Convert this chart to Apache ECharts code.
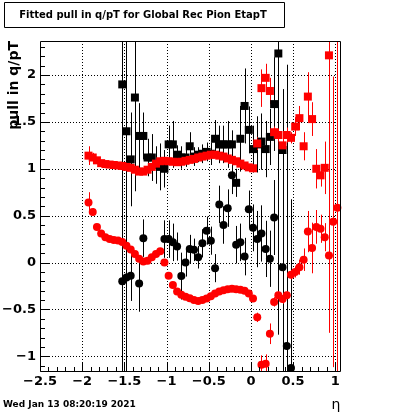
<!DOCTYPE html>
<html><head><meta charset="utf-8">
<script src="https://cdn.jsdelivr.net/npm/echarts@6/dist/echarts.min.js"></script>
<style>html,body{margin:0;padding:0;background:#fff}#c{width:400px;height:414px}</style>
</head><body><div id="c"></div>
<script>
// ---- data ----
const eta = [-1.925,-1.875,-1.825,-1.775,-1.725,-1.675,-1.625,-1.575,-1.525,-1.475,
 -1.425,-1.375,-1.325,-1.275,-1.225,-1.175,-1.125,-1.075,-1.025,-0.975,
 -0.925,-0.875,-0.825,-0.775,-0.725,-0.675,-0.625,-0.575,-0.525,-0.475,
 -0.425,-0.375,-0.325,-0.275,-0.225,-0.175,-0.125,-0.075,-0.025,0.025,
 0.075,0.125,0.175,0.225,0.275,0.325,0.375,0.425,0.475,0.525,
 0.575,0.625,0.675,0.725,0.775,0.825,0.875,0.925,0.975,1.025];

const redSigma = [1.14,1.12,1.09,1.06,1.05,1.045,1.04,1.035,1.03,1.02,
 1.01,0.99,0.97,0.97,0.99,1.02,1.055,1.08,1.085,1.08,
 1.075,1.07,1.075,1.085,1.095,1.105,1.12,1.13,1.14,1.15,
 1.15,1.14,1.13,1.11,1.095,1.08,1.055,1.035,1.015,1.005,
 1.27,1.86,1.97,1.83,1.39,1.36,1.25,1.36,1.33,1.45,
 1.54,1.24,1.77,1.53,1.00,0.93,1.01,2.21,null,null];
const redSigmaErr = [0.1,0.05,0.03,0.03,0.02,0.02,0.02,0.02,0.02,0.02,
 0.02,0.02,0.02,0.02,0.02,0.02,0.02,0.02,0.02,0.02,
 0.02,0.02,0.02,0.02,0.02,0.02,0.02,0.02,0.02,0.02,
 0.02,0.02,0.02,0.02,0.02,0.02,0.02,0.03,0.03,0.04,
 0.07,0.2,0.15,0.14,0.06,0.07,0.09,0.08,0.06,0.1,
 0.13,0.15,0.26,0.18,0.21,0.12,0.28,2.96,null,null];

const redMean = [0.64,0.54,0.38,0.31,0.27,0.25,0.24,0.235,0.22,0.18,
 0.14,0.09,0.04,0.01,0.02,0.055,0.09,0.12,0.0,-0.14,
 -0.24,-0.31,-0.345,-0.365,-0.38,-0.40,-0.41,-0.40,-0.385,-0.36,
 -0.33,-0.31,-0.295,-0.285,-0.28,-0.285,-0.29,-0.30,-0.33,-0.385,
 -0.585,-1.09,-1.08,-0.76,-0.42,-0.35,-0.39,-0.35,-0.13,-0.10,
 -0.05,0.03,0.33,0.155,0.38,0.36,0.27,0.074,0.434,0.585];
const redMeanErr = [0.11,0.04,0.03,0.02,0.02,0.02,0.02,0.02,0.02,0.02,
 0.02,0.02,0.02,0.02,0.02,0.02,0.02,0.02,0.02,0.02,
 0.02,0.02,0.02,0.02,0.02,0.02,0.02,0.02,0.02,0.02,
 0.02,0.02,0.02,0.02,0.02,0.02,0.02,0.02,0.03,0.03,
 0.05,0.1,0.1,0.11,0.05,0.04,0.05,0.04,0.05,0.06,
 0.08,0.12,0.22,0.27,0.18,0.15,0.15,0.4,1.55,2.0];

const blkSigma = [null,null,null,null,null,null,null,null,1.90,1.40,
 1.10,1.76,1.35,1.35,1.12,1.12,1.04,1.02,1.0,1.26,
 1.26,1.15,1.12,1.12,1.24,1.13,1.15,1.16,1.18,1.16,
 1.32,1.26,1.26,1.26,1.26,0.85,1.32,1.67,1.415,1.21,
 1.26,1.29,1.21,1.34,1.69,2.23,1.2,null,null,null,
 null,null,null,null,null,null,null,null,null,null];
const blkSigmaErr = [null,null,null,null,null,null,null,null,3,3,
 0.5,1.0,0.35,0.25,0.2,0.25,0.2,0.25,0.2,0.2,
 0.25,0.1,0.12,0.1,0.15,0.1,0.08,0.1,0.1,0.12,
 0.2,0.2,0.2,0.25,0.15,0.15,0.35,0.4,0.25,0.25,
 0.3,0.3,0.3,0.3,0.5,3,0.6,null,null,null,
 null,null,null,null,null,null,null,null,null,null];

const blkMean = [null,null,null,null,null,null,null,null,-0.20,-0.16,
 -0.14,null,-0.225,0.26,null,null,null,null,0.25,0.25,
 0.215,0.17,-0.145,0.0,0.145,0.135,0.056,0.205,0.34,0.233,
 -0.06,0.62,0.40,0.58,0.93,0.19,0.215,0.063,0.568,0.37,
 0.25,0.31,0.145,0.04,0.48,null,-0.05,-0.89,-1.125,null,
 null,null,null,null,null,null,null,null,null,null];
const blkMeanErr = [null,null,null,null,null,null,null,null,3,0.46,
 0.27,null,0.3,0.2,null,null,null,null,0.2,0.2,
 0.2,0.15,0.25,0.15,0.15,0.12,0.12,0.15,0.15,0.15,
 0.15,0.2,0.2,0.2,0.2,0.2,0.2,0.2,0.2,0.25,
 0.3,0.3,0.3,0.3,0.4,null,1.9,3,1.8,null,
 null,null,null,null,null,null,null,null,null,null];

const xTicks = [-2.5,-2,-1.5,-1,-0.5,0,0.5,1];
const yTicks = [-1,-0.5,0,0.5,1,1.5,2];
const xTickLabels = ['\u22122.5','\u22122','\u22121.5','\u22121','\u22120.5','0','0.5','1'];
const yTickLabels = ['\u22121','\u22120.5','0','0.5','1','1.5','2'];

const X_MIN = -2.5, X_MAX = 1.056, Y_MIN = -1.168, Y_MAX = 2.363;
const FONT = '"DejaVu Sans", sans-serif';

function clampY(v){ return Math.max(Y_MIN, Math.min(Y_MAX, v)); }

function errSeries(vals, errs, color){
  const d = [];
  eta.forEach((x,i)=>{ if(vals[i]!=null && errs[i]!=null) d.push([x, vals[i]-errs[i], vals[i]+errs[i]]); });
  return {type:'custom', silent:true, animation:false, data:d, encode:{x:0,y:[1,2]},
    renderItem:(p,api)=>{
      const a = api.coord([api.value(0), clampY(api.value(1))]);
      const b = api.coord([api.value(0), clampY(api.value(2))]);
      const x = Math.round(a[0])+0.5;
      return {type:'line', shape:{x1:x,y1:a[1],x2:x,y2:b[1]}, style:{stroke:color,lineWidth:1}};
    }};
}
function ptSeries(vals, symbol, size, color){
  const d = [];
  eta.forEach((x,i)=>{ if(vals[i]!=null) d.push([x, vals[i]]); });
  return {type:'scatter', silent:true, animation:false, symbol:symbol, symbolSize:size,
    itemStyle:{color:color, opacity:1}, data:d, clip:true, emphasis:{disabled:true}};
}

const gridSeries = {type:'custom', silent:true, data:[[0,0]], encode:{x:0,y:1},
  renderItem:(p,api)=>{
    const ch = [];
    const bl = api.coord([X_MIN,Y_MIN]), tr = api.coord([X_MAX,Y_MAX]);
    xTicks.forEach(v=>{ if(v<=X_MIN) return; const x=Math.round(api.coord([v,0])[0])+0.5;
      ch.push({type:'line',shape:{x1:x,y1:tr[1],x2:x,y2:bl[1]},style:{stroke:'#000',lineWidth:1,lineDash:[1,2]}}); });
    yTicks.forEach(v=>{ const y=Math.round(api.coord([0,v])[1])+0.5;
      ch.push({type:'line',shape:{x1:bl[0],y1:y,x2:tr[0],y2:y},style:{stroke:'#000',lineWidth:1,lineDash:[1,2]}}); });
    return {type:'group', children:ch};
  }};

const axesSeries = {type:'custom', silent:true, data:[[0,0]], encode:{x:0,y:1}, z:10,
  renderItem:(p,api)=>{
    const ch = [];
    const bl = api.coord([X_MIN,Y_MIN]), tr = api.coord([X_MAX,Y_MAX]);
    const L = Math.round(bl[0])+0.5, B = Math.round(bl[1])-0.5, R = Math.round(tr[0])+0.5, T = Math.round(tr[1])+0.5;
    ch.push({type:'rect',shape:{x:L,y:T,width:R-L,height:B-T},style:{fill:null,stroke:'#000',lineWidth:1}});
    // x ticks
    for(let k=-25;k<=10;k++){
      const v=k/10, x=Math.round(api.coord([v,0])[0])+0.5, len=(k%5===0)?9:4.5;
      ch.push({type:'line',shape:{x1:x,y1:B,x2:x,y2:B-len},style:{stroke:'#000',lineWidth:1}});
    }
    for(let k=-11;k<=23;k++){
      const v=k/10, y=Math.round(api.coord([0,v])[1])+0.5, len=(k%5===0)?9:4.5;
      ch.push({type:'line',shape:{x1:L,y1:y,x2:L+len,y2:y},style:{stroke:'#000',lineWidth:1}});
    }
    xTicks.forEach((v,i)=>{ const x=api.coord([v,0])[0];
      ch.push({type:'text',style:{text:xTickLabels[i],x:x,y:375,textAlign:'center',textVerticalAlign:'top',verticalAlign:'top',font:'bold 13px '+FONT,fill:'#000'}}); });
    yTicks.forEach((v,i)=>{ const y=api.coord([0,v])[1];
      ch.push({type:'text',style:{text:yTickLabels[i],x:36,y:y,textAlign:'right',textVerticalAlign:'middle',verticalAlign:'middle',font:'bold 13px '+FONT,fill:'#000'}}); });
    return {type:'group', children:ch};
  }};

const chart = echarts.init(document.getElementById('c'), null, {renderer:'canvas', width:400, height:414});
chart.setOption({
  animation:false,
  backgroundColor:'#fff',
  grid:{left:40,top:41,width:300,height:331,show:false,containLabel:false},
  xAxis:{type:'value',min:X_MIN,max:X_MAX,show:false},
  yAxis:{type:'value',min:Y_MIN,max:Y_MAX,show:false},
  graphic:[
    {type:'rect',shape:{x:4.5,y:2.5,width:280,height:25},style:{fill:'#fff',stroke:'#000',lineWidth:1}},
    {type:'text',x:143,y:15,style:{text:'Fitted pull in q/pT for Global Rec Pion EtapT',font:'bold 10px '+FONT,fill:'#000',textAlign:'center',textVerticalAlign:'middle',verticalAlign:'middle'}},
    {type:'text',x:14,y:41,rotation:Math.PI/2,style:{text:'pull in q/pT',font:'bold 14px '+FONT,fill:'#000',textAlign:'right',textVerticalAlign:'middle',verticalAlign:'middle'}},
    {type:'text',x:3,y:405,style:{text:'Wed Jan 13 08:20:19 2021',font:'bold 9px '+FONT,fill:'#000',textAlign:'left',textVerticalAlign:'middle',verticalAlign:'middle'}},
    {type:'text',x:336,y:405,style:{text:'\u03b7',font:'14px '+FONT,fill:'#000',textAlign:'center',textVerticalAlign:'middle',verticalAlign:'middle'}}
  ],
  series:[
    gridSeries,
    errSeries(blkSigma, blkSigmaErr, '#000'),
    ptSeries(blkSigma, 'rect', 8, '#000'),
    errSeries(blkMean, blkMeanErr, '#000'),
    ptSeries(blkMean, 'circle', 8, '#000'),
    errSeries(redSigma, redSigmaErr, '#ff0000'),
    ptSeries(redSigma, 'rect', 8, '#ff0000'),
    errSeries(redMean, redMeanErr, '#ff0000'),
    ptSeries(redMean, 'circle', 8, '#ff0000'),
    axesSeries
  ]
});
</script></body></html>
